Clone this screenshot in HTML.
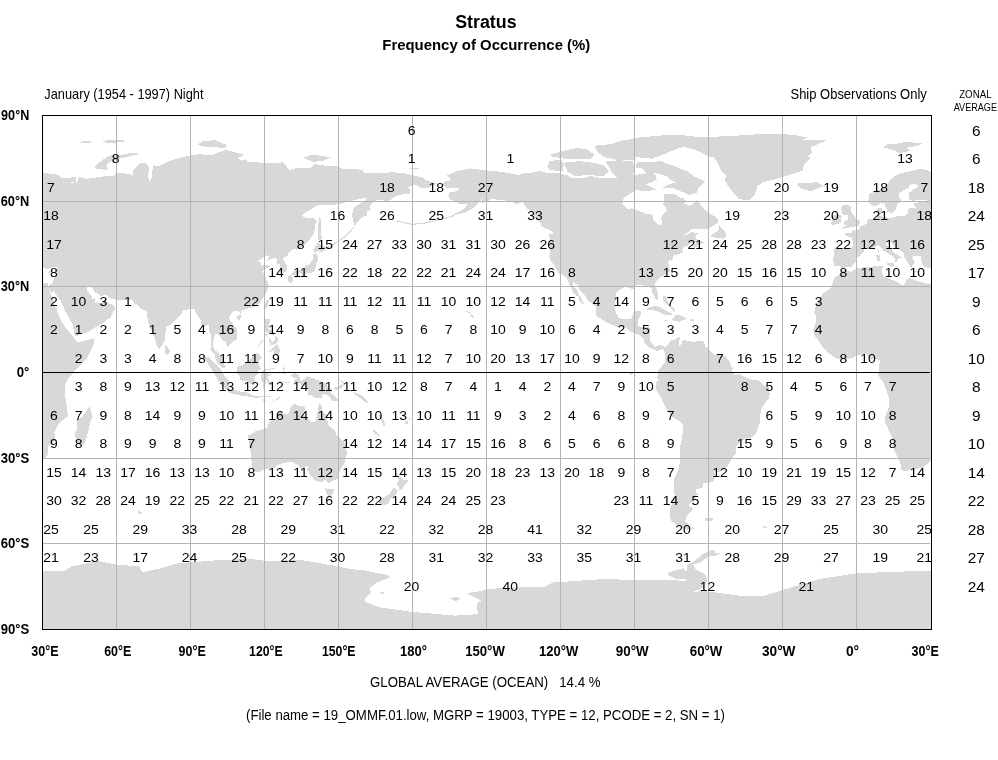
<!DOCTYPE html>
<html><head><meta charset="utf-8"><style>
html,body{margin:0;padding:0;background:#fff;width:998px;height:760px;overflow:hidden}
svg{display:block;will-change:transform}
text{font-family:"Liberation Sans",sans-serif}
.n text{font-size:12.5px;text-anchor:middle;fill:#000}
.n text.z{font-size:14px}
.ax text{font-size:14px;font-weight:bold;fill:#000}
.t{fill:#000}
</style></head><body>
<svg width="998" height="760" viewBox="0 0 998 760">
<defs><clipPath id="mc"><rect x="42" y="115" width="889" height="514"/></clipPath></defs>
<g clip-path="url(#mc)" fill="#d8d8d8" stroke="none" shape-rendering="crispEdges">
<polygon points="-46.6,269.8 -36.9,271.8 -29.5,267.8 -19.7,266.9 -7.3,265.8 -4.9,266.3 -6.8,270.6 -4.9,275.5 -1.2,278.3 5.7,280.1 14.9,285.5 17.3,283.5 17.8,279.8 22.3,278.1 29.7,281.2 39.5,283.8 47.7,282.6 48.4,286.6 54.3,303.5 59.8,317.7 64.9,326.9 70.4,333.5 74.8,338.9 77.8,342.3 94.3,338.3 93.3,344.9 86.4,359.1 76.5,369.1 68.9,377.7 64.9,385.1 64.7,392.0 65.9,400.6 67.9,416.3 58.8,423.4 54.3,432.0 55.6,440.5 48.4,446.2 48.4,453.4 43.5,460.5 34.6,467.9 22.3,469.4 17.3,471.4 13.4,469.7 12.4,463.4 5.7,449.1 3.8,437.1 -2.9,422.0 -2.4,414.8 1.5,406.3 0.6,397.1 -1.9,389.1 -4.4,383.1 -9.8,375.1 -8.6,364.9 -8.1,360.6 -11.0,358.6 -17.2,359.7 -22.1,353.7 -29.5,354.9 -36.9,358.3 -50.7,359.4 -60.4,352.3 -64.8,347.7 -69.2,340.9 -73.2,336.3 -75.2,330.0 -72.7,324.9 -71.7,316.3 -73.9,312.0 -71.5,304.0 -67.8,297.2 -64.1,292.9 -56.7,287.8 -55.9,283.5 -53.0,276.9 -48.8,274.9 -46.8,270.6"/>
<polygon points="841.4,269.8 851.1,271.8 858.5,267.8 868.3,266.9 880.7,265.8 883.1,266.3 881.2,270.6 883.1,275.5 886.8,278.3 893.7,280.1 902.9,285.5 905.3,283.5 905.8,279.8 910.3,278.1 917.7,281.2 927.5,283.8 935.7,282.6 936.4,286.6 942.3,303.5 947.8,317.7 952.9,326.9 958.4,333.5 962.8,338.9 965.8,342.3 982.3,338.3 981.3,344.9 974.4,359.1 964.5,369.1 956.9,377.7 952.9,385.1 952.7,392.0 953.9,400.6 955.9,416.3 946.8,423.4 942.3,432.0 943.6,440.5 936.4,446.2 936.4,453.4 931.5,460.5 922.6,467.9 910.3,469.4 905.3,471.4 901.4,469.7 900.4,463.4 893.7,449.1 891.8,437.1 885.1,422.0 885.6,414.8 889.5,406.3 888.6,397.1 886.1,389.1 883.6,383.1 878.2,375.1 879.4,364.9 879.9,360.6 877.0,358.6 870.8,359.7 865.9,353.7 858.5,354.9 851.1,358.3 837.3,359.4 827.6,352.3 823.2,347.7 818.8,340.9 814.8,336.3 812.8,330.0 815.3,324.9 816.3,316.3 814.1,312.0 816.5,304.0 820.2,297.2 823.9,292.9 831.3,287.8 832.1,283.5 835.0,276.9 839.2,274.9 841.2,270.6"/>
<polygon points="89.6,406.3 92.6,416.3 90.1,423.4 87.4,434.8 84.7,443.4 79.0,444.8 75.8,439.1 75.1,433.4 77.3,427.7 76.5,420.5 82.5,416.8 86.2,412.0 88.4,407.7"/>
<polygon points="-45.8,269.2 -42.9,267.2 -36.9,267.2 -32.7,262.1 -31.5,259.8 -32.7,259.2 -24.1,252.1 -24.6,248.6 -20.2,248.1 -16.0,248.9 -10.3,245.2 -6.6,247.8 -4.4,250.9 2.0,254.4 6.7,257.8 7.5,263.5 9.2,260.9 9.9,259.2 13.6,257.5 9.9,254.9 5.5,252.4 2.0,248.6 -1.7,244.6 -1.7,242.6 1.8,241.8 3.8,243.2 7.5,247.8 15.4,252.1 16.1,255.8 17.8,259.2 20.5,264.3 23.5,267.8 24.7,264.9 27.2,262.9 24.2,256.9 27.2,255.8 32.1,255.5 33.6,256.6 32.6,259.5 34.1,262.1 35.1,265.8 37.1,267.2 43.2,268.1 48.2,268.9 53.1,266.9 56.8,267.2 56.3,270.6 56.3,273.5 54.3,277.8 52.6,282.6 48.2,286.3 49.4,289.2 52.1,292.9 53.3,291.8 54.3,287.8 54.3,291.8 58.3,298.0 62.2,304.0 64.4,309.7 68.6,317.2 73.1,325.2 73.6,330.3 75.1,335.7 79.0,335.4 88.1,332.0 96.8,326.6 104.4,322.3 108.1,318.9 110.6,317.7 112.3,313.5 115.5,308.0 112.8,304.6 109.1,303.8 106.9,300.9 106.6,296.9 104.9,299.2 101.2,302.9 95.3,302.9 95.0,298.0 92.8,300.0 91.6,296.0 88.1,292.0 86.4,287.8 87.6,286.3 90.3,286.3 92.6,288.6 94.8,292.3 101.2,296.0 106.1,294.9 109.3,298.0 115.0,299.5 119.9,300.0 127.1,300.0 132.3,299.5 134.5,303.5 137.7,304.6 139.7,308.0 147.3,311.5 147.3,317.5 149.1,326.3 151.5,330.6 155.0,339.4 156.9,346.6 159.2,349.2 161.1,346.6 164.1,342.6 165.1,337.7 166.1,326.6 170.8,324.6 175.9,319.2 181.4,314.3 182.6,310.6 187.5,309.7 191.2,308.6 194.4,308.6 195.9,312.9 200.6,320.0 200.6,326.3 203.8,326.9 208.7,324.6 209.2,329.7 211.0,336.3 210.7,344.9 210.5,349.7 215.4,354.9 215.4,359.1 217.9,364.0 223.3,368.3 225.0,367.4 223.1,360.0 222.3,356.6 218.6,352.9 215.7,350.9 212.7,345.7 213.7,340.0 214.7,334.9 216.9,333.7 220.8,337.2 222.1,340.3 226.0,342.0 227.0,347.2 230.9,343.7 233.2,341.7 236.9,339.2 237.4,333.7 236.4,328.0 231.7,322.3 228.7,318.0 230.9,314.0 234.4,310.6 238.8,310.9 240.3,314.0 241.8,310.6 248.0,308.6 255.4,306.6 260.3,302.0 263.0,298.0 265.0,294.3 267.9,289.8 268.7,285.2 268.4,282.9 266.2,279.8 264.7,274.1 262.0,272.1 264.7,268.9 270.2,266.6 267.2,264.6 261.5,265.5 260.5,262.3 258.1,260.6 262.0,258.3 266.7,255.2 269.4,256.4 266.7,261.2 270.2,259.5 274.6,258.1 277.1,259.2 276.3,263.2 280.3,264.3 280.0,272.1 282.5,273.2 286.9,271.2 287.4,266.9 284.5,261.8 282.5,258.3 287.9,255.5 287.9,253.2 290.6,251.2 293.6,248.6 296.6,249.8 302.2,246.6 307.2,242.4 313.3,234.9 314.6,229.2 314.8,224.9 316.8,221.5 313.1,217.5 306.2,217.8 301.5,215.8 305.9,212.4 310.4,209.8 315.3,206.4 320.7,204.9 328.1,205.5 334.3,204.7 340.5,204.1 345.4,202.4 350.3,201.2 357.7,199.2 362.7,198.4 366.4,198.4 365.1,200.7 356.5,205.8 354.0,207.8 352.3,213.5 352.6,219.2 354.5,225.8 358.7,220.9 362.7,217.2 367.6,215.2 367.1,211.5 370.6,209.5 369.6,205.5 373.8,201.2 378.2,199.8 388.6,201.0 396.0,196.1 405.6,193.5 410.0,194.1 410.8,189.8 407.8,187.2 413.0,185.5 416.7,185.0 420.6,187.8 428.0,188.1 431.7,185.8 437.2,183.5 432.2,182.1 426.8,180.7 421.9,177.3 412.0,175.0 403.4,172.7 392.3,172.4 382.4,172.7 375.0,173.3 365.1,173.3 361.9,169.8 354.3,169.0 344.7,169.5 336.0,166.1 325.7,165.8 314.6,164.1 310.9,167.8 302.2,167.5 294.1,168.7 289.2,169.8 286.2,166.1 282.5,162.4 273.9,163.0 264.0,163.5 255.4,161.8 248.0,162.1 245.5,159.3 241.8,160.7 237.4,158.4 244.3,155.0 230.7,151.0 225.3,150.1 217.1,152.7 212.2,155.3 204.8,154.7 200.1,154.1 190.0,155.5 183.1,157.0 172.0,160.1 166.1,162.4 159.9,165.5 156.0,166.4 153.0,165.0 151.8,177.8 149.3,182.1 148.1,176.4 149.1,169.3 148.1,165.0 144.1,162.4 139.9,163.5 133.0,170.1 133.0,175.0 124.9,173.5 117.0,173.0 113.5,176.4 103.7,176.4 98.7,177.0 86.4,179.0 79.0,176.4 76.5,183.5 70.4,182.4 65.4,181.8 56.8,181.2 49.4,182.7 54.3,188.1 59.3,189.5 61.2,187.2 61.7,188.7 66.2,187.5 67.9,187.5 71.6,181.8 76.3,183.0 76.5,176.7 69.1,177.8 61.7,177.8 58.0,174.7 51.9,174.1 44.5,172.7 38.3,169.8 30.9,169.0 22.3,171.3 12.4,173.3 6.2,176.1 2.5,179.5 -1.2,185.0 -5.9,188.7 -12.3,191.2 -18.4,193.8 -19.7,200.7 -18.2,203.8 -14.7,206.4 -11.0,205.5 -6.3,202.4 -5.4,203.8 -3.9,203.2 -2.4,206.9 -0.7,211.5 3.5,213.2 7.2,210.9 8.7,206.9 9.4,204.4 12.2,202.1 13.4,200.1 10.7,197.0 11.2,193.0 15.6,190.4 20.5,187.8 21.3,184.7 27.7,184.1 30.7,186.4 29.4,187.0 23.5,190.7 20.5,193.2 21.0,198.7 24.5,201.0 33.4,199.5 39.5,199.5 37.1,202.1 27.2,202.7 25.7,203.5 26.7,206.1 28.2,208.7 21.8,207.8 19.8,209.8 20.0,213.2 17.3,215.5 13.6,215.8 8.7,216.4 2.8,218.4 -1.7,217.2 -4.9,217.8 -5.4,216.7 -7.6,215.5 -5.1,210.9 -6.3,207.5 -10.8,208.9 -12.0,212.1 -10.8,215.2 -11.0,217.8 -14.7,219.2 -19.7,219.5 -21.4,223.5 -23.6,225.2 -28.1,226.7 -28.5,228.9 -32.0,230.7 -35.2,230.1 -36.7,232.9 -43.6,233.2 -42.9,235.2 -37.4,237.5 -35.0,240.1 -35.0,244.9 -36.4,248.1 -41.9,247.8 -49.3,247.5 -54.9,248.6 -53.7,252.1 -54.0,255.5 -55.4,260.6 -53.7,262.9 -54.0,266.3 -50.3,265.8 -48.0,266.6 -47.0,268.3"/>
<polygon points="842.2,269.2 845.1,267.2 851.1,267.2 855.3,262.1 856.5,259.8 855.3,259.2 863.9,252.1 863.4,248.6 867.8,248.1 872.0,248.9 877.7,245.2 881.4,247.8 883.6,250.9 890.0,254.4 894.7,257.8 895.5,263.5 897.2,260.9 897.9,259.2 901.6,257.5 897.9,254.9 893.5,252.4 890.0,248.6 886.3,244.6 886.3,242.6 889.8,241.8 891.8,243.2 895.5,247.8 903.4,252.1 904.1,255.8 905.8,259.2 908.5,264.3 911.5,267.8 912.7,264.9 915.2,262.9 912.2,256.9 915.2,255.8 920.1,255.5 921.6,256.6 920.6,259.5 922.1,262.1 923.1,265.8 925.1,267.2 931.2,268.1 936.2,268.9 941.1,266.9 944.8,267.2 944.3,270.6 944.3,273.5 942.3,277.8 940.6,282.6 936.2,286.3 937.4,289.2 940.1,292.9 941.3,291.8 942.3,287.8 942.3,291.8 946.3,298.0 950.2,304.0 952.4,309.7 956.6,317.2 961.1,325.2 961.6,330.3 963.1,335.7 967.0,335.4 976.1,332.0 984.8,326.6 992.4,322.3 996.1,318.9 998.6,317.7 1000.3,313.5 1003.5,308.0 1000.8,304.6 997.1,303.8 994.9,300.9 994.6,296.9 992.9,299.2 989.2,302.9 983.3,302.9 983.0,298.0 980.8,300.0 979.6,296.0 976.1,292.0 974.4,287.8 975.6,286.3 978.3,286.3 980.6,288.6 982.8,292.3 989.2,296.0 994.1,294.9 997.3,298.0 1003.0,299.5 1007.9,300.0 1015.1,300.0 1020.3,299.5 1022.5,303.5 1025.7,304.6 1027.7,308.0 1035.3,311.5 1035.3,317.5 1037.1,326.3 1039.5,330.6 1043.0,339.4 1044.9,346.6 1047.2,349.2 1049.1,346.6 1052.1,342.6 1053.1,337.7 1054.1,326.6 1058.8,324.6 1063.9,319.2 1069.4,314.3 1070.6,310.6 1075.5,309.7 1079.2,308.6 1082.4,308.6 1083.9,312.9 1088.6,320.0 1088.6,326.3 1091.8,326.9 1096.7,324.6 1097.2,329.7 1099.0,336.3 1098.7,344.9 1098.5,349.7 1103.4,354.9 1103.4,359.1 1105.9,364.0 1111.3,368.3 1113.0,367.4 1111.1,360.0 1110.3,356.6 1106.6,352.9 1103.7,350.9 1100.7,345.7 1101.7,340.0 1102.7,334.9 1104.9,333.7 1108.8,337.2 1110.1,340.3 1114.0,342.0 1115.0,347.2 1118.9,343.7 1121.2,341.7 1124.9,339.2 1125.4,333.7 1124.4,328.0 1119.7,322.3 1116.7,318.0 1118.9,314.0 1122.4,310.6 1126.8,310.9 1128.3,314.0 1129.8,310.6 1136.0,308.6 1143.4,306.6 1148.3,302.0 1151.0,298.0 1153.0,294.3 1155.9,289.8 1156.7,285.2 1156.4,282.9 1154.2,279.8 1152.7,274.1 1150.0,272.1 1152.7,268.9 1158.2,266.6 1155.2,264.6 1149.5,265.5 1148.5,262.3 1146.1,260.6 1150.0,258.3 1154.7,255.2 1157.4,256.4 1154.7,261.2 1158.2,259.5 1162.6,258.1 1165.1,259.2 1164.3,263.2 1168.3,264.3 1168.0,272.1 1170.5,273.2 1174.9,271.2 1175.4,266.9 1172.5,261.8 1170.5,258.3 1175.9,255.5 1175.9,253.2 1178.6,251.2 1181.6,248.6 1184.6,249.8 1190.2,246.6 1195.2,242.4 1201.3,234.9 1202.6,229.2 1202.8,224.9 1204.8,221.5 1201.1,217.5 1194.2,217.8 1189.5,215.8 1193.9,212.4 1198.4,209.8 1203.3,206.4 1208.7,204.9 1216.1,205.5 1222.3,204.7 1228.5,204.1 1233.4,202.4 1238.3,201.2 1245.7,199.2 1250.7,198.4 1254.4,198.4 1253.1,200.7 1244.5,205.8 1242.0,207.8 1240.3,213.5 1240.6,219.2 1242.5,225.8 1246.7,220.9 1250.7,217.2 1255.6,215.2 1255.1,211.5 1258.6,209.5 1257.6,205.5 1261.8,201.2 1266.2,199.8 1276.6,201.0 1284.0,196.1 1293.6,193.5 1298.0,194.1 1298.8,189.8 1295.8,187.2 1301.0,185.5 1304.7,185.0 1308.6,187.8 1316.0,188.1 1319.7,185.8 1325.2,183.5 1320.2,182.1 1314.8,180.7 1309.9,177.3 1300.0,175.0 1291.4,172.7 1280.3,172.4 1270.4,172.7 1263.0,173.3 1253.1,173.3 1249.9,169.8 1242.3,169.0 1232.7,169.5 1224.0,166.1 1213.7,165.8 1202.6,164.1 1198.9,167.8 1190.2,167.5 1182.1,168.7 1177.2,169.8 1174.2,166.1 1170.5,162.4 1161.9,163.0 1152.0,163.5 1143.4,161.8 1136.0,162.1 1133.5,159.3 1129.8,160.7 1125.4,158.4 1132.3,155.0 1118.7,151.0 1113.3,150.1 1105.1,152.7 1100.2,155.3 1092.8,154.7 1088.1,154.1 1078.0,155.5 1071.1,157.0 1060.0,160.1 1054.1,162.4 1047.9,165.5 1044.0,166.4 1041.0,165.0 1039.8,177.8 1037.3,182.1 1036.1,176.4 1037.1,169.3 1036.1,165.0 1032.1,162.4 1027.9,163.5 1021.0,170.1 1021.0,175.0 1012.9,173.5 1005.0,173.0 1001.5,176.4 991.7,176.4 986.7,177.0 974.4,179.0 967.0,176.4 964.5,183.5 958.4,182.4 953.4,181.8 944.8,181.2 937.4,182.7 942.3,188.1 947.3,189.5 949.2,187.2 949.7,188.7 954.2,187.5 955.9,187.5 959.6,181.8 964.3,183.0 964.5,176.7 957.1,177.8 949.7,177.8 946.0,174.7 939.9,174.1 932.5,172.7 926.3,169.8 918.9,169.0 910.3,171.3 900.4,173.3 894.2,176.1 890.5,179.5 886.8,185.0 882.1,188.7 875.7,191.2 869.6,193.8 868.3,200.7 869.8,203.8 873.3,206.4 877.0,205.5 881.7,202.4 882.6,203.8 884.1,203.2 885.6,206.9 887.3,211.5 891.5,213.2 895.2,210.9 896.7,206.9 897.4,204.4 900.2,202.1 901.4,200.1 898.7,197.0 899.2,193.0 903.6,190.4 908.5,187.8 909.3,184.7 915.7,184.1 918.7,186.4 917.4,187.0 911.5,190.7 908.5,193.2 909.0,198.7 912.5,201.0 921.4,199.5 927.5,199.5 925.1,202.1 915.2,202.7 913.7,203.5 914.7,206.1 916.2,208.7 909.8,207.8 907.8,209.8 908.0,213.2 905.3,215.5 901.6,215.8 896.7,216.4 890.8,218.4 886.3,217.2 883.1,217.8 882.6,216.7 880.4,215.5 882.9,210.9 881.7,207.5 877.2,208.9 876.0,212.1 877.2,215.2 877.0,217.8 873.3,219.2 868.3,219.5 866.6,223.5 864.4,225.2 859.9,226.7 859.5,228.9 856.0,230.7 852.8,230.1 851.3,232.9 844.4,233.2 845.1,235.2 850.6,237.5 853.0,240.1 853.0,244.9 851.6,248.1 846.1,247.8 838.7,247.5 833.1,248.6 834.3,252.1 834.0,255.5 832.6,260.6 834.3,262.9 834.0,266.3 837.7,265.8 840.0,266.6 841.0,268.3"/>
<polygon points="164.8,344.0 167.6,346.9 170.0,351.2 168.3,354.6 165.3,354.3 164.8,350.6"/>
<polygon points="235.9,317.2 239.8,314.6 241.8,316.0 239.8,319.5 237.9,320.0"/>
<polygon points="264.2,306.3 266.5,300.0 268.9,300.6 267.2,306.9 266.0,309.5"/>
<polygon points="290.9,274.9 294.8,270.6 300.3,270.3 303.5,270.1 305.7,265.8 309.9,264.1 313.3,258.3 313.3,254.4 317.0,254.1 318.3,259.2 315.8,264.9 315.3,269.8 313.3,272.1 310.4,273.2 305.9,273.2 305.4,274.3 302.5,276.3 301.2,273.2 297.3,273.8 293.6,275.5 291.1,275.2"/>
<polygon points="287.7,276.6 288.7,282.3 291.6,283.5 293.4,278.1 290.9,275.2"/>
<polygon points="294.6,276.9 296.3,278.3 300.3,275.5 299.0,274.1 295.3,275.2"/>
<polygon points="313.3,250.9 314.6,248.1 317.3,242.4 320.5,244.6 323.9,246.4 327.1,248.1 321.5,252.1 316.5,250.6 315.6,253.2"/>
<polygon points="318.3,240.6 322.0,238.9 320.7,231.2 321.5,224.4 321.2,219.8 319.3,216.9 318.5,222.7 317.5,226.4 318.3,232.1 317.8,236.4"/>
<polygon points="203.1,356.0 208.5,357.2 215.4,364.3 219.6,367.7 224.0,374.9 226.5,378.3 229.5,381.1 229.0,388.6 225.8,388.8 220.3,383.4 216.9,378.0 212.7,371.4 209.7,366.3 205.8,360.9"/>
<polygon points="227.5,391.4 229.7,388.8 235.1,390.0 240.6,391.7 245.7,391.7 250.7,394.3 250.2,396.8 239.3,395.4 230.5,393.1"/>
<polygon points="236.9,367.7 238.6,366.3 242.3,364.9 246.7,362.9 250.7,358.9 253.1,356.6 256.8,352.3 260.3,356.0 262.3,357.2 259.1,360.0 258.6,364.9 261.5,369.1 258.6,369.7 257.8,374.3 255.4,376.3 254.4,382.9 250.7,383.7 246.7,380.9 243.0,380.6 239.8,380.3 239.6,376.6 236.9,373.4"/>
<polygon points="262.8,387.7 265.0,388.0 266.2,379.4 269.7,385.7 271.9,385.1 267.2,377.1 272.4,374.3 265.5,373.1 266.5,370.3 275.3,368.6 276.8,367.7 264.0,369.4 261.5,374.9 261.0,380.6 262.8,382.0"/>
<polygon points="291.1,374.9 294.8,373.1 298.8,374.9 301.0,381.4 307.2,376.3 309.6,376.9 315.8,379.4 324.4,382.9 327.6,386.8 332.1,389.4 330.8,393.1 333.6,394.8 336.3,398.0 340.0,401.4 337.3,401.4 332.1,400.6 328.1,395.1 323.2,393.7 321.5,397.7 315.8,398.0 311.1,395.1 307.4,396.0 308.4,392.8 307.9,387.7 301.0,384.6 297.8,382.0 295.1,383.4 293.6,380.0 297.3,378.6 293.6,378.0 291.9,376.3"/>
<polygon points="265.5,319.2 269.7,319.5 269.4,325.5 267.7,328.3 274.1,332.3 273.9,336.0 270.4,334.0 265.5,331.5 263.5,326.6 264.7,324.9"/>
<polygon points="268.9,352.0 272.6,347.4 277.3,344.0 280.3,351.2 277.6,355.7 274.4,354.3 273.4,350.0 269.4,352.3"/>
<polygon points="268.9,338.3 272.6,342.0 277.1,336.3 275.8,343.4 273.1,345.4 270.2,342.0"/>
<polygon points="248.0,434.8 249.2,446.2 251.4,456.2 251.7,467.9 253.6,471.4 259.1,471.9 266.5,468.5 272.9,468.8 279.3,464.2 286.2,462.5 291.9,461.9 299.0,465.4 301.7,471.7 304.7,467.4 307.9,465.9 306.9,471.1 309.6,471.7 309.1,473.7 312.3,477.1 314.8,480.5 321.5,482.5 325.4,479.9 329.1,483.7 332.1,480.8 337.8,479.1 338.2,473.9 341.2,468.5 344.4,463.4 346.9,453.4 345.6,444.8 341.2,439.7 336.8,435.7 335.0,430.3 328.9,426.0 327.1,419.1 326.4,414.5 322.7,412.5 322.0,407.4 319.7,402.6 317.8,408.3 317.3,414.8 315.3,421.7 311.6,421.7 306.2,417.4 302.2,414.3 305.7,407.1 303.2,406.0 298.3,405.7 294.6,404.0 290.9,406.6 288.2,414.3 284.2,414.5 282.0,412.0 278.1,412.8 274.9,418.8 269.7,421.4 267.2,427.4 261.0,430.0 255.9,431.1 250.7,434.3"/>
<polygon points="324.9,488.2 329.1,489.4 333.8,488.8 333.3,492.8 330.6,496.2 328.1,496.5 326.2,492.8"/>
<polygon points="394.0,470.2 398.7,475.4 401.1,478.2 404.1,480.2 408.3,479.7 406.8,483.9 404.4,484.8 402.6,488.8 399.2,490.2 398.7,485.9 396.7,483.9 398.7,480.5 398.2,476.8 395.0,472.5"/>
<polygon points="394.0,487.7 397.7,489.9 397.0,493.1 394.2,496.2 390.3,499.1 388.8,503.1 384.9,505.1 378.7,503.4 379.4,501.4 383.1,497.6 388.8,494.8 391.3,491.1 392.5,488.5"/>
<polygon points="441.6,184.7 445.5,181.0 452.0,180.1 446.5,175.3 456.9,171.3 470.0,168.4 481.1,169.8 488.5,170.7 500.8,171.8 508.2,173.0 518.1,175.0 524.2,173.3 532.9,172.4 540.3,170.7 547.7,173.5 557.5,172.7 567.4,175.3 572.3,178.4 584.7,177.8 590.8,176.1 599.5,177.8 614.3,178.4 618.7,176.7 622.9,167.8 626.6,173.5 629.1,177.8 638.9,176.1 643.9,181.8 645.1,172.7 653.7,173.5 655.5,178.4 651.8,182.7 644.4,182.4 641.4,186.4 637.7,189.2 631.5,192.7 623.6,198.1 622.4,203.8 627.8,209.2 631.8,208.4 638.9,210.9 646.3,214.1 653.0,214.7 653.5,219.8 658.2,224.7 661.1,225.2 662.1,221.8 660.9,217.2 667.1,210.7 665.3,206.1 662.4,204.4 665.3,201.0 663.4,194.1 674.0,193.8 679.9,197.5 684.3,197.8 684.3,203.8 689.3,205.8 692.7,204.1 696.7,199.8 704.5,209.5 710.5,214.4 714.7,216.1 718.4,220.1 717.9,222.7 714.2,225.2 708.0,228.7 692.2,228.7 685.8,234.1 680.6,238.4 683.3,236.4 692.0,231.8 697.6,233.5 695.4,236.4 696.9,240.1 704.3,241.8 708.0,240.9 699.9,244.4 694.7,247.8 693.0,245.2 696.9,242.6 690.5,243.2 687.8,245.5 683.3,247.2 682.1,251.8 683.3,252.6 678.6,254.1 674.5,255.2 673.5,256.4 673.2,258.6 671.0,261.2 669.8,259.2 667.8,263.2 668.8,266.1 669.8,270.6 667.3,272.6 663.6,275.2 660.9,276.9 656.2,280.9 655.0,284.3 657.2,290.6 658.4,295.2 657.7,300.0 655.7,300.0 654.5,296.0 651.8,292.0 651.8,288.6 648.8,286.3 645.6,287.2 642.9,285.2 637.9,285.2 635.0,285.8 635.5,288.9 632.0,288.9 628.3,287.5 624.6,287.2 622.4,288.3 617.7,291.2 615.7,293.8 616.2,298.0 615.0,302.6 615.0,309.2 616.2,313.2 618.5,316.9 622.2,319.2 627.1,319.2 630.3,319.5 633.0,315.2 633.3,312.0 637.9,310.6 641.4,310.6 640.2,316.3 638.2,319.2 638.4,326.3 643.1,326.9 647.6,326.6 650.8,329.2 649.8,332.6 649.5,339.2 652.0,343.4 655.5,346.9 659.7,344.6 665.3,347.2 665.6,349.4 664.1,351.4 662.6,348.9 657.7,351.2 655.7,350.3 650.0,348.0 644.6,343.4 644.1,340.0 640.2,335.2 635.5,333.5 630.1,331.7 624.6,326.6 618.0,327.2 612.0,324.9 605.4,321.5 596.5,316.0 595.5,310.9 596.0,306.6 592.3,304.0 587.6,300.0 586.1,297.2 583.4,294.0 579.2,289.2 577.5,284.9 573.3,282.1 572.8,286.3 576.8,289.5 578.5,294.0 581.0,297.8 583.2,302.6 585.2,305.8 583.9,304.6 579.5,301.2 579.0,297.5 574.6,294.3 572.1,290.3 568.1,281.5 566.9,278.6 563.7,274.9 558.5,273.2 555.6,268.1 553.8,264.6 550.9,260.9 549.4,256.6 549.9,249.5 550.1,239.8 548.7,234.1 552.4,234.4 553.3,232.1 548.2,229.2 542.0,226.9 540.3,222.9 535.3,216.9 530.9,211.5 526.7,207.8 522.3,202.1 516.8,204.4 511.2,201.8 504.3,200.4 496.1,199.5 490.4,199.2 487.2,201.5 481.8,203.0 482.1,198.7 478.6,202.7 475.4,206.4 470.5,209.8 465.3,212.4 457.1,214.4 450.2,216.7 453.9,214.1 462.3,209.8 467.7,205.2 466.3,204.1 460.6,204.1 454.9,201.2 450.2,199.8 448.3,196.1 449.2,192.7 452.7,191.8 457.6,191.0 458.9,188.1 452.7,187.8 446.5,187.5 441.6,184.7"/>
<polygon points="665.3,347.4 669.5,342.3 671.2,340.3 674.9,339.7 678.6,336.6 680.6,338.3 678.9,341.7 679.4,346.0 680.9,345.2 683.1,339.4 687.3,341.2 692.7,341.7 698.1,341.4 703.1,341.4 705.5,346.6 708.5,348.3 711.5,352.0 714.9,354.9 720.3,355.2 725.3,356.3 728.7,360.0 731.4,366.6 732.9,367.7 731.7,372.0 736.1,375.4 738.6,373.7 746.2,377.7 751.9,380.0 758.6,380.6 764.2,385.7 768.4,386.8 769.7,393.4 769.2,397.7 764.5,403.7 760.8,409.7 759.8,422.8 758.3,427.1 755.4,434.3 752.4,437.4 748.0,437.7 741.3,440.8 736.4,446.0 736.4,452.8 732.9,457.1 729.5,462.8 725.5,468.5 720.6,471.7 717.1,471.7 711.9,469.4 715.4,473.7 715.6,477.1 713.7,481.1 710.0,482.5 703.1,483.1 702.3,487.9 695.7,489.1 695.7,492.2 699.1,494.2 696.4,495.4 694.7,500.5 690.0,502.8 688.8,505.9 693.4,508.2 689.0,513.6 686.0,517.1 685.3,521.1 686.8,522.2 689.0,525.9 694.9,528.2 691.0,529.1 686.8,529.6 679.9,527.3 674.7,523.1 671.2,521.3 669.8,515.9 669.8,508.5 671.7,504.8 672.7,497.9 674.7,495.4 674.2,491.4 674.0,485.1 674.5,478.2 677.2,473.1 679.4,466.2 679.9,458.2 679.6,448.5 682.1,439.1 682.8,430.5 682.6,424.3 679.9,421.7 670.5,415.7 667.5,410.6 664.6,405.4 659.7,395.4 655.7,389.1 656.4,386.3 655.5,383.7 658.9,379.7 656.4,378.3 658.4,373.4 658.4,369.7 661.1,367.4 664.6,362.6 665.3,358.6 664.8,352.9 663.8,350.9"/>
<polygon points="709.7,236.1 719.1,229.8 718.9,224.7 725.3,232.1 726.0,236.4 723.3,238.6 717.9,238.1"/>
<polygon points="646.6,309.5 649.3,307.5 655.0,305.8 659.4,306.9 664.8,309.7 669.5,312.0 673.0,314.3 665.6,315.5 662.4,313.5 657.4,311.2 651.3,310.0"/>
<polygon points="672.5,319.5 675.4,315.2 680.6,315.2 685.8,317.7 687.3,319.2 683.6,319.7 679.6,321.7 673.0,320.6"/>
<polygon points="662.9,319.5 667.8,320.0 666.6,321.2 663.1,320.3"/>
<polygon points="690.2,319.2 694.2,319.7 693.4,320.9 690.2,320.6"/>
<polygon points="841.9,228.9 848.6,227.5 859.2,225.8 860.2,221.5 856.5,219.2 854.8,216.7 852.1,213.2 850.8,210.1 851.6,207.5 848.1,204.7 843.7,204.7 840.7,208.1 842.2,211.5 840.7,212.1 843.4,215.5 848.1,215.2 847.6,219.5 844.4,221.2 843.4,224.4 847.9,225.2 844.7,226.1"/>
<polygon points="841.2,222.9 841.0,218.4 842.2,216.1 838.0,214.1 835.5,214.7 831.1,217.2 832.6,219.8 830.6,223.8 832.3,224.9 836.3,224.4"/>
<polygon points="883.1,147.3 888.1,144.1 897.4,143.6 905.3,142.1 922.6,143.0 917.7,145.6 906.6,147.8 910.3,150.7 899.2,153.3 894.2,150.7 889.3,148.7"/>
<polygon points="77.3,142.1 86.4,141.0 94.5,141.8 86.4,143.3"/>
<polygon points="100.0,142.4 108.6,139.8 120.9,140.4 129.1,140.7 116.0,142.7"/>
<polygon points="449.5,598.2 456.4,596.7 460.6,599.0 455.2,601.3"/>
<polygon points="378.5,592.7 382.4,592.2 386.1,593.0 382.4,593.9"/>
<polygon points="197.4,145.0 206.0,147.0 224.5,147.8 227.0,145.0 214.7,140.1 202.3,141.3"/>
<polygon points="303.5,157.8 310.9,154.7 318.3,155.3 330.6,157.5 323.2,160.7 313.3,162.1"/>
<polygon points="408.3,168.7 416.9,167.8 419.4,168.7 414.5,169.5"/>
<polygon points="886.6,263.2 894.5,262.6 893.2,267.2 886.8,264.6"/>
<polygon points="876.2,255.2 880.2,254.6 879.7,260.6 877.0,260.9"/>
<polygon points="877.5,250.4 879.4,249.2 879.4,253.8 877.7,253.2"/>
<polygon points="914.0,270.6 920.9,271.2 917.2,272.3 914.0,271.2"/>
<polygon points="47.7,271.8 53.1,270.3 51.4,273.2 47.9,272.9"/>
<polygon points="-476.0,629.0 -476.0,611.9 -432.8,615.6 -410.1,614.2 -411.6,603.6 -407.2,600.4 -422.2,593.0 -413.1,592.2 -399.8,589.3 -396.1,589.0 -387.9,587.9 -344.0,587.0 -335.2,582.5 -283.4,579.0 -248.1,580.2 -222.9,579.6 -202.0,581.0 -194.1,591.6 -181.0,591.3 -147.2,595.9 -124.5,595.9 -102.1,589.0 -68.3,579.0 -32.0,573.3 42.0,570.5 64.4,571.0 71.4,566.5 98.5,561.0 116.5,564.5 138.9,566.5 142.4,572.2 159.2,568.7 177.4,563.3 222.3,559.9 249.4,558.8 267.0,561.0 300.8,559.9 339.0,566.5 350.1,569.0 364.9,570.5 387.6,575.0 390.5,577.3 377.0,582.5 369.6,587.9 371.1,592.2 364.9,599.0 364.9,601.9 379.9,607.3 412.0,611.9 412.0,629.0"/>
<polygon points="412.0,629.0 412.0,611.9 455.2,615.6 477.9,614.2 476.4,603.6 480.8,600.4 465.8,593.0 474.9,592.2 488.2,589.3 491.9,589.0 500.1,587.9 544.0,587.0 552.8,582.5 604.6,579.0 639.9,580.2 665.1,579.6 686.0,581.0 693.9,591.6 707.0,591.3 740.8,595.9 763.5,595.9 785.9,589.0 819.7,579.0 856.0,573.3 930.0,570.5 952.4,571.0 959.4,566.5 986.5,561.0 1004.5,564.5 1026.9,566.5 1030.4,572.2 1047.2,568.7 1065.4,563.3 1110.3,559.9 1137.4,558.8 1155.0,561.0 1188.8,559.9 1227.0,566.5 1238.1,569.0 1252.9,570.5 1275.6,575.0 1278.5,577.3 1265.0,582.5 1257.6,587.9 1259.1,592.2 1252.9,599.0 1252.9,601.9 1267.9,607.3 1300.0,611.9 1300.0,629.0"/>
<polygon points="471.0,315.7 471.7,314.0 474.2,316.3 472.2,318.0"/>
<polygon points="465.5,310.3 467.3,311.2 471.2,312.6 470.0,313.2 466.3,311.7"/>
<polygon points="461.8,308.6 463.1,308.9 462.6,309.7"/>
<polygon points="704.8,518.2 712.9,518.5 713.7,519.9 709.2,521.3 705.5,520.5"/>
<polygon points="762.3,526.2 767.2,526.8 767.7,528.5 763.5,527.6"/>
<polygon points="137.5,511.1 141.9,511.9 140.7,513.9 137.7,513.6"/>
<polygon points="372.5,429.1 375.0,430.5 380.4,435.7 378.7,436.2 373.0,431.4"/>
<polygon points="378.7,414.0 381.2,414.8 383.1,419.1 385.4,425.4 383.6,425.7 379.4,417.1"/>
<polygon points="405.1,421.4 408.3,421.1 408.5,424.0 405.3,424.0"/>
<polygon points="409.0,418.3 412.0,419.1 409.5,420.5"/>
<polygon points="354.0,391.4 356.5,393.4 362.2,395.4 365.1,398.3 368.3,402.8 366.4,402.8 361.4,399.1 355.3,394.8 353.5,392.6"/>
<polygon points="333.8,387.7 338.0,386.8 341.7,384.3 343.7,384.9 341.2,388.6 336.8,389.7 333.8,389.4"/>
<polygon points="339.2,379.1 343.7,382.0 345.4,385.4 344.2,385.4 340.5,381.1"/>
<polygon points="273.9,401.4 277.6,397.7 282.0,396.0 276.8,400.3 272.9,401.7"/>
<polygon points="250.4,395.4 256.6,395.7 261.5,396.0 271.4,395.7 270.9,396.8 261.5,397.4 255.4,397.7 250.4,396.8"/>
<polygon points="261.5,399.1 266.0,400.3 265.2,401.4 262.0,400.0"/>
<polygon points="282.5,366.9 285.0,367.7 284.2,370.6 286.0,374.3 282.5,373.4 283.2,369.1"/>
<polygon points="282.5,381.4 290.6,382.0 289.9,383.1 283.7,382.3"/>
<polygon points="278.8,381.1 281.8,381.4 280.8,382.9"/>
<polygon points="257.1,348.0 262.3,342.3 263.3,339.4 262.3,339.7 257.3,347.2"/>
<polygon points="264.7,333.5 267.7,334.3 267.0,336.9 265.2,336.3"/>
<polygon points="274.6,336.3 277.8,336.9 278.3,340.6 276.3,343.4 275.1,340.9"/>
<polygon points="268.9,338.3 271.6,339.2 270.2,342.0 271.9,345.4 270.9,345.7 268.9,342.3"/>
<polygon points="326.9,247.2 333.1,244.1 339.2,239.8 345.4,235.5 353.5,226.9 354.0,227.8 346.1,236.6 339.5,240.9 333.6,245.2 327.6,248.4"/>
<polygon points="453.9,216.1 445.3,218.7 436.7,220.9 424.3,223.8 412.0,224.9 397.2,221.8 394.7,220.9 397.2,220.7 412.0,223.8 424.3,222.7 436.7,219.8 445.3,217.5 453.9,215.2"/>
<polygon points="662.4,295.5 666.1,296.0 667.3,300.6 669.8,304.9 673.5,307.8 675.9,311.2 673.5,311.5 669.0,306.9 664.8,302.6 663.1,300.0"/>
<polygon points="109.3,429.1 110.6,430.0 109.6,430.8"/>
<polygon points="104.2,431.7 105.6,432.0 104.9,433.1"/>
<polygon points="630.1,372.6 632.8,373.4 631.5,375.4 630.3,374.9"/>
<polygon points="686.0,581.0 686.8,565.3 694.0,561.3 697.9,558.2 702.6,554.2 707.4,551.8 713.7,549.5 715.2,552.6 720.8,553.0 715.2,555.8 708.1,556.6 704.2,559.7 699.5,562.9 693.1,564.5 695.5,569.2 705.0,573.9 707.4,579.5 704.2,587.4 693.9,591.3 686.0,588.0"/>
<polygon points="667.9,573.1 672.6,571.2 679.7,569.2 683.7,568.4 686.0,571.6 689.2,574.7 686.0,578.7 675.8,578.7 668.7,575.5"/>
<polygon points="95.0,166.0 100.0,162.0 106.0,157.5 112.0,155.0 120.0,155.5 130.0,153.0 138.0,152.5 137.0,154.5 125.0,157.5 118.0,159.0 110.0,162.0 106.0,165.0 108.0,169.0 105.0,170.0 100.0,169.0 96.0,169.0"/>
<polygon points="550.4,154.7 564.0,150.7 576.9,148.2 586.5,149.0 594.5,154.7 591.3,158.7 578.5,159.5 564.0,158.7 551.2,156.3"/>
<polygon points="594.5,145.8 610.5,144.2 623.4,140.2 634.6,139.4 636.2,147.4 629.8,152.3 636.2,159.5 623.4,160.3 615.4,159.5 604.1,157.1 597.7,152.3"/>
<polygon points="547.2,166.7 549.6,161.1 560.8,159.5 564.0,163.5 562.4,171.5 549.6,169.9"/>
<polygon points="564.0,162.7 580.1,161.1 592.9,162.7 604.1,165.1 608.9,171.5 602.5,176.3 588.1,174.7 575.3,176.3 567.3,171.5"/>
<polygon points="605.7,161.1 620.2,160.3 633.0,161.1 634.6,171.5 629.8,179.5 620.2,179.5 612.1,173.1"/>
<polygon points="635.8,162.6 661.1,161.3 674.6,166.2 688.1,171.6 693.5,176.1 705.3,181.6 699.0,187.0 697.1,192.4 689.9,195.1 679.1,190.6 671.9,187.9 662.9,187.9 666.5,185.2 675.5,182.5 670.1,179.8 666.5,176.1 656.6,173.4 645.7,172.5 641.2,168.0 635.8,168.0"/>
<polygon points="628.0,176.0 634.9,175.2 643.0,173.4 655.7,175.2 656.6,179.8 645.7,184.3 656.6,189.7 643.0,191.5 634.9,189.7 628.0,186.0"/>
<polygon points="663.8,194.2 679.1,196.9 686.3,200.5 683.6,205.0 663.8,204.1"/>
<polygon points="623.2,141.0 636.0,137.8 661.7,135.4 684.1,135.4 698.6,137.0 708.0,137.4 708.0,156.0 695.4,150.0 684.1,147.0 676.1,149.0 664.9,153.9 652.1,158.7 636.0,157.1 628.0,153.9 623.2,149.0"/>
<polygon points="707.8,137.4 715.6,136.7 741.7,135.4 767.7,133.5 793.8,134.8 806.8,137.4 801.6,140.0 827.7,140.0 810.7,147.1 812.0,153.0 808.1,156.3 810.7,158.2 804.2,164.1 802.9,170.6 791.2,174.5 782.1,177.1 772.9,179.7 762.5,182.3 757.3,186.2 754.7,195.3 749.5,200.5 739.1,199.2 731.3,190.1 724.7,181.0 726.1,175.8 722.1,171.9 719.5,166.7 714.3,157.6 707.8,156.3"/>
<polygon points="796.4,183.6 804.2,183.0 817.2,182.3 823.7,186.2 810.7,191.4 801.6,188.8"/>
</g>
<g stroke="#b4b4b4" stroke-width="1" shape-rendering="crispEdges">
<line x1="116.5" y1="115" x2="116.5" y2="629"/>
<line x1="190.5" y1="115" x2="190.5" y2="629"/>
<line x1="264.5" y1="115" x2="264.5" y2="629"/>
<line x1="338.5" y1="115" x2="338.5" y2="629"/>
<line x1="412.5" y1="115" x2="412.5" y2="629"/>
<line x1="486.5" y1="115" x2="486.5" y2="629"/>
<line x1="560.5" y1="115" x2="560.5" y2="629"/>
<line x1="634.5" y1="115" x2="634.5" y2="629"/>
<line x1="708.5" y1="115" x2="708.5" y2="629"/>
<line x1="782.5" y1="115" x2="782.5" y2="629"/>
<line x1="856.5" y1="115" x2="856.5" y2="629"/>
<line x1="42" y1="201.5" x2="930" y2="201.5"/>
<line x1="42" y1="286.5" x2="930" y2="286.5"/>
<line x1="42" y1="458.5" x2="930" y2="458.5"/>
<line x1="42" y1="543.5" x2="930" y2="543.5"/>
</g>
<line x1="42" y1="372.5" x2="930" y2="372.5" stroke="#000" stroke-width="1" shape-rendering="crispEdges"/>
<rect x="42.5" y="115.5" width="889" height="514" fill="none" stroke="#000" stroke-width="1" shape-rendering="crispEdges"/>
<g class="n">
<text transform="translate(53.93,249) scale(1.12,1)">17</text>
<text transform="translate(300.60,249) scale(1.12,1)">8</text>
<text transform="translate(325.27,249) scale(1.12,1)">15</text>
<text transform="translate(349.93,249) scale(1.12,1)">24</text>
<text transform="translate(374.60,249) scale(1.12,1)">27</text>
<text transform="translate(399.27,249) scale(1.12,1)">33</text>
<text transform="translate(423.93,249) scale(1.12,1)">30</text>
<text transform="translate(448.60,249) scale(1.12,1)">31</text>
<text transform="translate(473.27,249) scale(1.12,1)">31</text>
<text transform="translate(497.93,249) scale(1.12,1)">30</text>
<text transform="translate(522.60,249) scale(1.12,1)">26</text>
<text transform="translate(547.27,249) scale(1.12,1)">26</text>
<text transform="translate(670.60,249) scale(1.12,1)">12</text>
<text transform="translate(695.27,249) scale(1.12,1)">21</text>
<text transform="translate(719.93,249) scale(1.12,1)">24</text>
<text transform="translate(744.60,249) scale(1.12,1)">25</text>
<text transform="translate(769.27,249) scale(1.12,1)">28</text>
<text transform="translate(793.93,249) scale(1.12,1)">28</text>
<text transform="translate(818.60,249) scale(1.12,1)">23</text>
<text transform="translate(843.27,249) scale(1.12,1)">22</text>
<text transform="translate(867.93,249) scale(1.12,1)">12</text>
<text transform="translate(892.60,249) scale(1.12,1)">11</text>
<text transform="translate(917.27,249) scale(1.12,1)">16</text>
<text transform="translate(53.93,277) scale(1.12,1)">8</text>
<text transform="translate(275.93,277) scale(1.12,1)">14</text>
<text transform="translate(300.60,277) scale(1.12,1)">11</text>
<text transform="translate(325.27,277) scale(1.12,1)">16</text>
<text transform="translate(349.93,277) scale(1.12,1)">22</text>
<text transform="translate(374.60,277) scale(1.12,1)">18</text>
<text transform="translate(399.27,277) scale(1.12,1)">22</text>
<text transform="translate(423.93,277) scale(1.12,1)">22</text>
<text transform="translate(448.60,277) scale(1.12,1)">21</text>
<text transform="translate(473.27,277) scale(1.12,1)">24</text>
<text transform="translate(497.93,277) scale(1.12,1)">24</text>
<text transform="translate(522.60,277) scale(1.12,1)">17</text>
<text transform="translate(547.27,277) scale(1.12,1)">16</text>
<text transform="translate(571.93,277) scale(1.12,1)">8</text>
<text transform="translate(645.93,277) scale(1.12,1)">13</text>
<text transform="translate(670.60,277) scale(1.12,1)">15</text>
<text transform="translate(695.27,277) scale(1.12,1)">20</text>
<text transform="translate(719.93,277) scale(1.12,1)">20</text>
<text transform="translate(744.60,277) scale(1.12,1)">15</text>
<text transform="translate(769.27,277) scale(1.12,1)">16</text>
<text transform="translate(793.93,277) scale(1.12,1)">15</text>
<text transform="translate(818.60,277) scale(1.12,1)">10</text>
<text transform="translate(843.27,277) scale(1.12,1)">8</text>
<text transform="translate(867.93,277) scale(1.12,1)">11</text>
<text transform="translate(892.60,277) scale(1.12,1)">10</text>
<text transform="translate(917.27,277) scale(1.12,1)">10</text>
<text transform="translate(53.93,306) scale(1.12,1)">2</text>
<text transform="translate(78.60,306) scale(1.12,1)">10</text>
<text transform="translate(103.27,306) scale(1.12,1)">3</text>
<text transform="translate(127.93,306) scale(1.12,1)">1</text>
<text transform="translate(251.27,306) scale(1.12,1)">22</text>
<text transform="translate(275.93,306) scale(1.12,1)">19</text>
<text transform="translate(300.60,306) scale(1.12,1)">11</text>
<text transform="translate(325.27,306) scale(1.12,1)">11</text>
<text transform="translate(349.93,306) scale(1.12,1)">11</text>
<text transform="translate(374.60,306) scale(1.12,1)">12</text>
<text transform="translate(399.27,306) scale(1.12,1)">11</text>
<text transform="translate(423.93,306) scale(1.12,1)">11</text>
<text transform="translate(448.60,306) scale(1.12,1)">10</text>
<text transform="translate(473.27,306) scale(1.12,1)">10</text>
<text transform="translate(497.93,306) scale(1.12,1)">12</text>
<text transform="translate(522.60,306) scale(1.12,1)">14</text>
<text transform="translate(547.27,306) scale(1.12,1)">11</text>
<text transform="translate(571.93,306) scale(1.12,1)">5</text>
<text transform="translate(596.60,306) scale(1.12,1)">4</text>
<text transform="translate(621.27,306) scale(1.12,1)">14</text>
<text transform="translate(645.93,306) scale(1.12,1)">9</text>
<text transform="translate(670.60,306) scale(1.12,1)">7</text>
<text transform="translate(695.27,306) scale(1.12,1)">6</text>
<text transform="translate(719.93,306) scale(1.12,1)">5</text>
<text transform="translate(744.60,306) scale(1.12,1)">6</text>
<text transform="translate(769.27,306) scale(1.12,1)">6</text>
<text transform="translate(793.93,306) scale(1.12,1)">5</text>
<text transform="translate(818.60,306) scale(1.12,1)">3</text>
<text transform="translate(53.93,334) scale(1.12,1)">2</text>
<text transform="translate(78.60,334) scale(1.12,1)">1</text>
<text transform="translate(103.27,334) scale(1.12,1)">2</text>
<text transform="translate(127.93,334) scale(1.12,1)">2</text>
<text transform="translate(152.60,334) scale(1.12,1)">1</text>
<text transform="translate(177.27,334) scale(1.12,1)">5</text>
<text transform="translate(201.93,334) scale(1.12,1)">4</text>
<text transform="translate(226.60,334) scale(1.12,1)">16</text>
<text transform="translate(251.27,334) scale(1.12,1)">9</text>
<text transform="translate(275.93,334) scale(1.12,1)">14</text>
<text transform="translate(300.60,334) scale(1.12,1)">9</text>
<text transform="translate(325.27,334) scale(1.12,1)">8</text>
<text transform="translate(349.93,334) scale(1.12,1)">6</text>
<text transform="translate(374.60,334) scale(1.12,1)">8</text>
<text transform="translate(399.27,334) scale(1.12,1)">5</text>
<text transform="translate(423.93,334) scale(1.12,1)">6</text>
<text transform="translate(448.60,334) scale(1.12,1)">7</text>
<text transform="translate(473.27,334) scale(1.12,1)">8</text>
<text transform="translate(497.93,334) scale(1.12,1)">10</text>
<text transform="translate(522.60,334) scale(1.12,1)">9</text>
<text transform="translate(547.27,334) scale(1.12,1)">10</text>
<text transform="translate(571.93,334) scale(1.12,1)">6</text>
<text transform="translate(596.60,334) scale(1.12,1)">4</text>
<text transform="translate(621.27,334) scale(1.12,1)">2</text>
<text transform="translate(645.93,334) scale(1.12,1)">5</text>
<text transform="translate(670.60,334) scale(1.12,1)">3</text>
<text transform="translate(695.27,334) scale(1.12,1)">3</text>
<text transform="translate(719.93,334) scale(1.12,1)">4</text>
<text transform="translate(744.60,334) scale(1.12,1)">5</text>
<text transform="translate(769.27,334) scale(1.12,1)">7</text>
<text transform="translate(793.93,334) scale(1.12,1)">7</text>
<text transform="translate(818.60,334) scale(1.12,1)">4</text>
<text transform="translate(78.60,363) scale(1.12,1)">2</text>
<text transform="translate(103.27,363) scale(1.12,1)">3</text>
<text transform="translate(127.93,363) scale(1.12,1)">3</text>
<text transform="translate(152.60,363) scale(1.12,1)">4</text>
<text transform="translate(177.27,363) scale(1.12,1)">8</text>
<text transform="translate(201.93,363) scale(1.12,1)">8</text>
<text transform="translate(226.60,363) scale(1.12,1)">11</text>
<text transform="translate(251.27,363) scale(1.12,1)">11</text>
<text transform="translate(275.93,363) scale(1.12,1)">9</text>
<text transform="translate(300.60,363) scale(1.12,1)">7</text>
<text transform="translate(325.27,363) scale(1.12,1)">10</text>
<text transform="translate(349.93,363) scale(1.12,1)">9</text>
<text transform="translate(374.60,363) scale(1.12,1)">11</text>
<text transform="translate(399.27,363) scale(1.12,1)">11</text>
<text transform="translate(423.93,363) scale(1.12,1)">12</text>
<text transform="translate(448.60,363) scale(1.12,1)">7</text>
<text transform="translate(473.27,363) scale(1.12,1)">10</text>
<text transform="translate(497.93,363) scale(1.12,1)">20</text>
<text transform="translate(522.60,363) scale(1.12,1)">13</text>
<text transform="translate(547.27,363) scale(1.12,1)">17</text>
<text transform="translate(571.93,363) scale(1.12,1)">10</text>
<text transform="translate(596.60,363) scale(1.12,1)">9</text>
<text transform="translate(621.27,363) scale(1.12,1)">12</text>
<text transform="translate(645.93,363) scale(1.12,1)">8</text>
<text transform="translate(670.60,363) scale(1.12,1)">6</text>
<text transform="translate(719.93,363) scale(1.12,1)">7</text>
<text transform="translate(744.60,363) scale(1.12,1)">16</text>
<text transform="translate(769.27,363) scale(1.12,1)">15</text>
<text transform="translate(793.93,363) scale(1.12,1)">12</text>
<text transform="translate(818.60,363) scale(1.12,1)">6</text>
<text transform="translate(843.27,363) scale(1.12,1)">8</text>
<text transform="translate(867.93,363) scale(1.12,1)">10</text>
<text transform="translate(78.60,391) scale(1.12,1)">3</text>
<text transform="translate(103.27,391) scale(1.12,1)">8</text>
<text transform="translate(127.93,391) scale(1.12,1)">9</text>
<text transform="translate(152.60,391) scale(1.12,1)">13</text>
<text transform="translate(177.27,391) scale(1.12,1)">12</text>
<text transform="translate(201.93,391) scale(1.12,1)">11</text>
<text transform="translate(226.60,391) scale(1.12,1)">13</text>
<text transform="translate(251.27,391) scale(1.12,1)">12</text>
<text transform="translate(275.93,391) scale(1.12,1)">12</text>
<text transform="translate(300.60,391) scale(1.12,1)">14</text>
<text transform="translate(325.27,391) scale(1.12,1)">11</text>
<text transform="translate(349.93,391) scale(1.12,1)">11</text>
<text transform="translate(374.60,391) scale(1.12,1)">10</text>
<text transform="translate(399.27,391) scale(1.12,1)">12</text>
<text transform="translate(423.93,391) scale(1.12,1)">8</text>
<text transform="translate(448.60,391) scale(1.12,1)">7</text>
<text transform="translate(473.27,391) scale(1.12,1)">4</text>
<text transform="translate(497.93,391) scale(1.12,1)">1</text>
<text transform="translate(522.60,391) scale(1.12,1)">4</text>
<text transform="translate(547.27,391) scale(1.12,1)">2</text>
<text transform="translate(571.93,391) scale(1.12,1)">4</text>
<text transform="translate(596.60,391) scale(1.12,1)">7</text>
<text transform="translate(621.27,391) scale(1.12,1)">9</text>
<text transform="translate(645.93,391) scale(1.12,1)">10</text>
<text transform="translate(670.60,391) scale(1.12,1)">5</text>
<text transform="translate(744.60,391) scale(1.12,1)">8</text>
<text transform="translate(769.27,391) scale(1.12,1)">5</text>
<text transform="translate(793.93,391) scale(1.12,1)">4</text>
<text transform="translate(818.60,391) scale(1.12,1)">5</text>
<text transform="translate(843.27,391) scale(1.12,1)">6</text>
<text transform="translate(867.93,391) scale(1.12,1)">7</text>
<text transform="translate(892.60,391) scale(1.12,1)">7</text>
<text transform="translate(53.93,420) scale(1.12,1)">6</text>
<text transform="translate(78.60,420) scale(1.12,1)">7</text>
<text transform="translate(103.27,420) scale(1.12,1)">9</text>
<text transform="translate(127.93,420) scale(1.12,1)">8</text>
<text transform="translate(152.60,420) scale(1.12,1)">14</text>
<text transform="translate(177.27,420) scale(1.12,1)">9</text>
<text transform="translate(201.93,420) scale(1.12,1)">9</text>
<text transform="translate(226.60,420) scale(1.12,1)">10</text>
<text transform="translate(251.27,420) scale(1.12,1)">11</text>
<text transform="translate(275.93,420) scale(1.12,1)">16</text>
<text transform="translate(300.60,420) scale(1.12,1)">14</text>
<text transform="translate(325.27,420) scale(1.12,1)">14</text>
<text transform="translate(349.93,420) scale(1.12,1)">10</text>
<text transform="translate(374.60,420) scale(1.12,1)">10</text>
<text transform="translate(399.27,420) scale(1.12,1)">13</text>
<text transform="translate(423.93,420) scale(1.12,1)">10</text>
<text transform="translate(448.60,420) scale(1.12,1)">11</text>
<text transform="translate(473.27,420) scale(1.12,1)">11</text>
<text transform="translate(497.93,420) scale(1.12,1)">9</text>
<text transform="translate(522.60,420) scale(1.12,1)">3</text>
<text transform="translate(547.27,420) scale(1.12,1)">2</text>
<text transform="translate(571.93,420) scale(1.12,1)">4</text>
<text transform="translate(596.60,420) scale(1.12,1)">6</text>
<text transform="translate(621.27,420) scale(1.12,1)">8</text>
<text transform="translate(645.93,420) scale(1.12,1)">9</text>
<text transform="translate(670.60,420) scale(1.12,1)">7</text>
<text transform="translate(769.27,420) scale(1.12,1)">6</text>
<text transform="translate(793.93,420) scale(1.12,1)">5</text>
<text transform="translate(818.60,420) scale(1.12,1)">9</text>
<text transform="translate(843.27,420) scale(1.12,1)">10</text>
<text transform="translate(867.93,420) scale(1.12,1)">10</text>
<text transform="translate(892.60,420) scale(1.12,1)">8</text>
<text transform="translate(53.93,448) scale(1.12,1)">9</text>
<text transform="translate(78.60,448) scale(1.12,1)">8</text>
<text transform="translate(103.27,448) scale(1.12,1)">8</text>
<text transform="translate(127.93,448) scale(1.12,1)">9</text>
<text transform="translate(152.60,448) scale(1.12,1)">9</text>
<text transform="translate(177.27,448) scale(1.12,1)">8</text>
<text transform="translate(201.93,448) scale(1.12,1)">9</text>
<text transform="translate(226.60,448) scale(1.12,1)">11</text>
<text transform="translate(251.27,448) scale(1.12,1)">7</text>
<text transform="translate(349.93,448) scale(1.12,1)">14</text>
<text transform="translate(374.60,448) scale(1.12,1)">12</text>
<text transform="translate(399.27,448) scale(1.12,1)">14</text>
<text transform="translate(423.93,448) scale(1.12,1)">14</text>
<text transform="translate(448.60,448) scale(1.12,1)">17</text>
<text transform="translate(473.27,448) scale(1.12,1)">15</text>
<text transform="translate(497.93,448) scale(1.12,1)">16</text>
<text transform="translate(522.60,448) scale(1.12,1)">8</text>
<text transform="translate(547.27,448) scale(1.12,1)">6</text>
<text transform="translate(571.93,448) scale(1.12,1)">5</text>
<text transform="translate(596.60,448) scale(1.12,1)">6</text>
<text transform="translate(621.27,448) scale(1.12,1)">6</text>
<text transform="translate(645.93,448) scale(1.12,1)">8</text>
<text transform="translate(670.60,448) scale(1.12,1)">9</text>
<text transform="translate(744.60,448) scale(1.12,1)">15</text>
<text transform="translate(769.27,448) scale(1.12,1)">9</text>
<text transform="translate(793.93,448) scale(1.12,1)">5</text>
<text transform="translate(818.60,448) scale(1.12,1)">6</text>
<text transform="translate(843.27,448) scale(1.12,1)">9</text>
<text transform="translate(867.93,448) scale(1.12,1)">8</text>
<text transform="translate(892.60,448) scale(1.12,1)">8</text>
<text transform="translate(53.93,477) scale(1.12,1)">15</text>
<text transform="translate(78.60,477) scale(1.12,1)">14</text>
<text transform="translate(103.27,477) scale(1.12,1)">13</text>
<text transform="translate(127.93,477) scale(1.12,1)">17</text>
<text transform="translate(152.60,477) scale(1.12,1)">16</text>
<text transform="translate(177.27,477) scale(1.12,1)">13</text>
<text transform="translate(201.93,477) scale(1.12,1)">13</text>
<text transform="translate(226.60,477) scale(1.12,1)">10</text>
<text transform="translate(251.27,477) scale(1.12,1)">8</text>
<text transform="translate(275.93,477) scale(1.12,1)">13</text>
<text transform="translate(300.60,477) scale(1.12,1)">11</text>
<text transform="translate(325.27,477) scale(1.12,1)">12</text>
<text transform="translate(349.93,477) scale(1.12,1)">14</text>
<text transform="translate(374.60,477) scale(1.12,1)">15</text>
<text transform="translate(399.27,477) scale(1.12,1)">14</text>
<text transform="translate(423.93,477) scale(1.12,1)">13</text>
<text transform="translate(448.60,477) scale(1.12,1)">15</text>
<text transform="translate(473.27,477) scale(1.12,1)">20</text>
<text transform="translate(497.93,477) scale(1.12,1)">18</text>
<text transform="translate(522.60,477) scale(1.12,1)">23</text>
<text transform="translate(547.27,477) scale(1.12,1)">13</text>
<text transform="translate(571.93,477) scale(1.12,1)">20</text>
<text transform="translate(596.60,477) scale(1.12,1)">18</text>
<text transform="translate(621.27,477) scale(1.12,1)">9</text>
<text transform="translate(645.93,477) scale(1.12,1)">8</text>
<text transform="translate(670.60,477) scale(1.12,1)">7</text>
<text transform="translate(719.93,477) scale(1.12,1)">12</text>
<text transform="translate(744.60,477) scale(1.12,1)">10</text>
<text transform="translate(769.27,477) scale(1.12,1)">19</text>
<text transform="translate(793.93,477) scale(1.12,1)">21</text>
<text transform="translate(818.60,477) scale(1.12,1)">19</text>
<text transform="translate(843.27,477) scale(1.12,1)">15</text>
<text transform="translate(867.93,477) scale(1.12,1)">12</text>
<text transform="translate(892.60,477) scale(1.12,1)">7</text>
<text transform="translate(917.27,477) scale(1.12,1)">14</text>
<text transform="translate(53.93,505) scale(1.12,1)">30</text>
<text transform="translate(78.60,505) scale(1.12,1)">32</text>
<text transform="translate(103.27,505) scale(1.12,1)">28</text>
<text transform="translate(127.93,505) scale(1.12,1)">24</text>
<text transform="translate(152.60,505) scale(1.12,1)">19</text>
<text transform="translate(177.27,505) scale(1.12,1)">22</text>
<text transform="translate(201.93,505) scale(1.12,1)">25</text>
<text transform="translate(226.60,505) scale(1.12,1)">22</text>
<text transform="translate(251.27,505) scale(1.12,1)">21</text>
<text transform="translate(275.93,505) scale(1.12,1)">22</text>
<text transform="translate(300.60,505) scale(1.12,1)">27</text>
<text transform="translate(325.27,505) scale(1.12,1)">16</text>
<text transform="translate(349.93,505) scale(1.12,1)">22</text>
<text transform="translate(374.60,505) scale(1.12,1)">22</text>
<text transform="translate(399.27,505) scale(1.12,1)">14</text>
<text transform="translate(423.93,505) scale(1.12,1)">24</text>
<text transform="translate(448.60,505) scale(1.12,1)">24</text>
<text transform="translate(473.27,505) scale(1.12,1)">25</text>
<text transform="translate(497.93,505) scale(1.12,1)">23</text>
<text transform="translate(621.27,505) scale(1.12,1)">23</text>
<text transform="translate(645.93,505) scale(1.12,1)">11</text>
<text transform="translate(670.60,505) scale(1.12,1)">14</text>
<text transform="translate(695.27,505) scale(1.12,1)">5</text>
<text transform="translate(719.93,505) scale(1.12,1)">9</text>
<text transform="translate(744.60,505) scale(1.12,1)">16</text>
<text transform="translate(769.27,505) scale(1.12,1)">15</text>
<text transform="translate(793.93,505) scale(1.12,1)">29</text>
<text transform="translate(818.60,505) scale(1.12,1)">33</text>
<text transform="translate(843.27,505) scale(1.12,1)">27</text>
<text transform="translate(867.93,505) scale(1.12,1)">23</text>
<text transform="translate(892.60,505) scale(1.12,1)">25</text>
<text transform="translate(917.27,505) scale(1.12,1)">25</text>
<text transform="translate(411.60,135) scale(1.12,1)">6</text>
<text transform="translate(115.60,163) scale(1.12,1)">8</text>
<text transform="translate(411.60,163) scale(1.12,1)">1</text>
<text transform="translate(510.27,163) scale(1.12,1)">1</text>
<text transform="translate(904.93,163) scale(1.12,1)">13</text>
<text transform="translate(51.00,192) scale(1.12,1)">7</text>
<text transform="translate(924.30,192) scale(1.12,1)">7</text>
<text transform="translate(386.93,192) scale(1.12,1)">18</text>
<text transform="translate(436.27,192) scale(1.12,1)">18</text>
<text transform="translate(485.60,192) scale(1.12,1)">27</text>
<text transform="translate(781.60,192) scale(1.12,1)">20</text>
<text transform="translate(830.93,192) scale(1.12,1)">19</text>
<text transform="translate(880.27,192) scale(1.12,1)">18</text>
<text transform="translate(51.00,220) scale(1.12,1)">18</text>
<text transform="translate(924.30,220) scale(1.12,1)">18</text>
<text transform="translate(337.60,220) scale(1.12,1)">16</text>
<text transform="translate(386.93,220) scale(1.12,1)">26</text>
<text transform="translate(436.27,220) scale(1.12,1)">25</text>
<text transform="translate(485.60,220) scale(1.12,1)">31</text>
<text transform="translate(534.93,220) scale(1.12,1)">33</text>
<text transform="translate(732.27,220) scale(1.12,1)">19</text>
<text transform="translate(781.60,220) scale(1.12,1)">23</text>
<text transform="translate(830.93,220) scale(1.12,1)">20</text>
<text transform="translate(880.27,220) scale(1.12,1)">21</text>
<text transform="translate(51.00,534) scale(1.12,1)">25</text>
<text transform="translate(924.30,534) scale(1.12,1)">25</text>
<text transform="translate(90.93,534) scale(1.12,1)">25</text>
<text transform="translate(140.27,534) scale(1.12,1)">29</text>
<text transform="translate(189.60,534) scale(1.12,1)">33</text>
<text transform="translate(238.93,534) scale(1.12,1)">28</text>
<text transform="translate(288.27,534) scale(1.12,1)">29</text>
<text transform="translate(337.60,534) scale(1.12,1)">31</text>
<text transform="translate(386.93,534) scale(1.12,1)">22</text>
<text transform="translate(436.27,534) scale(1.12,1)">32</text>
<text transform="translate(485.60,534) scale(1.12,1)">28</text>
<text transform="translate(534.93,534) scale(1.12,1)">41</text>
<text transform="translate(584.27,534) scale(1.12,1)">32</text>
<text transform="translate(633.60,534) scale(1.12,1)">29</text>
<text transform="translate(682.93,534) scale(1.12,1)">20</text>
<text transform="translate(732.27,534) scale(1.12,1)">20</text>
<text transform="translate(781.60,534) scale(1.12,1)">27</text>
<text transform="translate(830.93,534) scale(1.12,1)">25</text>
<text transform="translate(880.27,534) scale(1.12,1)">30</text>
<text transform="translate(51.00,562) scale(1.12,1)">21</text>
<text transform="translate(924.30,562) scale(1.12,1)">21</text>
<text transform="translate(90.93,562) scale(1.12,1)">23</text>
<text transform="translate(140.27,562) scale(1.12,1)">17</text>
<text transform="translate(189.60,562) scale(1.12,1)">24</text>
<text transform="translate(238.93,562) scale(1.12,1)">25</text>
<text transform="translate(288.27,562) scale(1.12,1)">22</text>
<text transform="translate(337.60,562) scale(1.12,1)">30</text>
<text transform="translate(386.93,562) scale(1.12,1)">28</text>
<text transform="translate(436.27,562) scale(1.12,1)">31</text>
<text transform="translate(485.60,562) scale(1.12,1)">32</text>
<text transform="translate(534.93,562) scale(1.12,1)">33</text>
<text transform="translate(584.27,562) scale(1.12,1)">35</text>
<text transform="translate(633.60,562) scale(1.12,1)">31</text>
<text transform="translate(682.93,562) scale(1.12,1)">31</text>
<text transform="translate(732.27,562) scale(1.12,1)">28</text>
<text transform="translate(781.60,562) scale(1.12,1)">29</text>
<text transform="translate(830.93,562) scale(1.12,1)">27</text>
<text transform="translate(880.27,562) scale(1.12,1)">19</text>
<text transform="translate(411.60,591) scale(1.12,1)">20</text>
<text transform="translate(510.27,591) scale(1.12,1)">40</text>
<text transform="translate(707.60,591) scale(1.12,1)">12</text>
<text transform="translate(806.27,591) scale(1.12,1)">21</text>
<text class="z" transform="translate(976.30,136) scale(1.1,1)">6</text>
<text class="z" transform="translate(976.30,164) scale(1.1,1)">6</text>
<text class="z" transform="translate(976.30,193) scale(1.1,1)">18</text>
<text class="z" transform="translate(976.30,221) scale(1.1,1)">24</text>
<text class="z" transform="translate(976.30,250) scale(1.1,1)">25</text>
<text class="z" transform="translate(976.30,278) scale(1.1,1)">17</text>
<text class="z" transform="translate(976.30,307) scale(1.1,1)">9</text>
<text class="z" transform="translate(976.30,335) scale(1.1,1)">6</text>
<text class="z" transform="translate(976.30,364) scale(1.1,1)">10</text>
<text class="z" transform="translate(976.30,392) scale(1.1,1)">8</text>
<text class="z" transform="translate(976.30,421) scale(1.1,1)">9</text>
<text class="z" transform="translate(976.30,449) scale(1.1,1)">10</text>
<text class="z" transform="translate(976.30,478) scale(1.1,1)">14</text>
<text class="z" transform="translate(976.30,506) scale(1.1,1)">22</text>
<text class="z" transform="translate(976.30,535) scale(1.1,1)">28</text>
<text class="z" transform="translate(976.30,563) scale(1.1,1)">27</text>
<text class="z" transform="translate(976.30,592) scale(1.1,1)">24</text>
</g>
<g class="ax">
<text x="31.3" y="656" textLength="27.4" lengthAdjust="spacingAndGlyphs">30°E</text>
<text x="104.2" y="656" textLength="27.1" lengthAdjust="spacingAndGlyphs">60°E</text>
<text x="178.6" y="656" textLength="27.1" lengthAdjust="spacingAndGlyphs">90°E</text>
<text x="249.1" y="656" textLength="33.5" lengthAdjust="spacingAndGlyphs">120°E</text>
<text x="321.9" y="656" textLength="33.6" lengthAdjust="spacingAndGlyphs">150°E</text>
<text x="400.1" y="656" textLength="27.0" lengthAdjust="spacingAndGlyphs">180°</text>
<text x="465.2" y="656" textLength="39.6" lengthAdjust="spacingAndGlyphs">150°W</text>
<text x="539.1" y="656" textLength="39.3" lengthAdjust="spacingAndGlyphs">120°W</text>
<text x="615.8" y="656" textLength="32.8" lengthAdjust="spacingAndGlyphs">90°W</text>
<text x="689.8" y="656" textLength="32.6" lengthAdjust="spacingAndGlyphs">60°W</text>
<text x="762.0" y="656" textLength="33.5" lengthAdjust="spacingAndGlyphs">30°W</text>
<text x="845.9" y="656" textLength="13.2" lengthAdjust="spacingAndGlyphs">0°</text>
<text x="911.6" y="656" textLength="27.3" lengthAdjust="spacingAndGlyphs">30°E</text>
<text transform="translate(1.1,120) scale(1,1.04)" style="font-size:13.5px" textLength="28.2" lengthAdjust="spacingAndGlyphs">90°N</text>
<text transform="translate(0.7,206) scale(1,1.04)" style="font-size:13.5px" textLength="28.6" lengthAdjust="spacingAndGlyphs">60°N</text>
<text transform="translate(0.7,291) scale(1,1.04)" style="font-size:13.5px" textLength="28.6" lengthAdjust="spacingAndGlyphs">30°N</text>
<text transform="translate(16.7,377) scale(1,1.04)" style="font-size:13.5px" textLength="12.6" lengthAdjust="spacingAndGlyphs">0°</text>
<text transform="translate(0.7,463) scale(1,1.04)" style="font-size:13.5px" textLength="28.6" lengthAdjust="spacingAndGlyphs">30°S</text>
<text transform="translate(0.7,548) scale(1,1.04)" style="font-size:13.5px" textLength="28.6" lengthAdjust="spacingAndGlyphs">60°S</text>
<text transform="translate(0.7,634) scale(1,1.04)" style="font-size:13.5px" textLength="28.6" lengthAdjust="spacingAndGlyphs">90°S</text>
</g>
<text x="455.2" y="28" font-size="18" font-weight="bold" textLength="61.4" lengthAdjust="spacingAndGlyphs">Stratus</text>
<text x="382.3" y="50" font-size="14" font-weight="bold" textLength="208.0" lengthAdjust="spacingAndGlyphs">Frequency of Occurrence (%)</text>
<text x="44.3" y="99" font-size="14.5" textLength="159.2" lengthAdjust="spacingAndGlyphs">January (1954 - 1997) Night</text>
<text x="790.5" y="99" font-size="14.5" textLength="136.3" lengthAdjust="spacingAndGlyphs">Ship Observations Only</text>
<text x="959.2" y="98" font-size="10.5" textLength="32.4" lengthAdjust="spacingAndGlyphs">ZONAL</text>
<text x="953.7" y="111" font-size="10.5" textLength="43.3" lengthAdjust="spacingAndGlyphs">AVERAGE</text>
<text x="370.0" y="687" font-size="14.5" textLength="230.5" lengthAdjust="spacingAndGlyphs">GLOBAL AVERAGE (OCEAN) &#160; 14.4 %</text>
<text x="246.0" y="720" font-size="14" textLength="479.0" lengthAdjust="spacingAndGlyphs">(File name = 19_OMMF.01.low, MGRP = 19003, TYPE = 12, PCODE = 2, SN = 1)</text>
</svg>
</body></html>
